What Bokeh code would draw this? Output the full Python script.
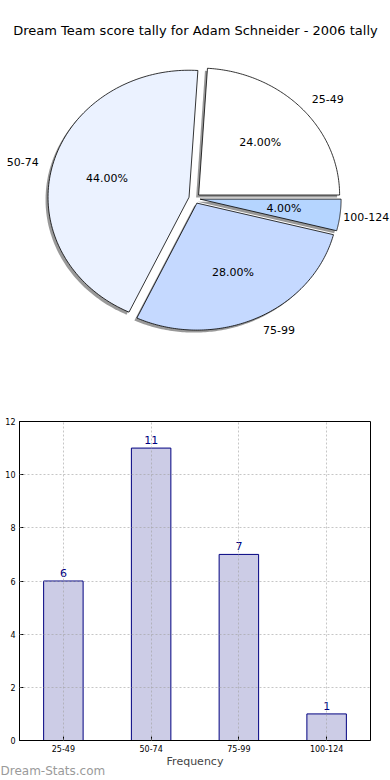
import numpy as np
from bokeh.plotting import figure
from bokeh.models import Range1d, FactorRange, FixedTicker
from bokeh.embed import file_html
from bokeh.resources import INLINE
from bokeh.core.properties import value

# ---- data ----
categories = ["25-49", "50-74", "75-99", "100-124"]
counts = [6, 11, 7, 1]
pie_colors = ["#ffffff", "#ebf2ff", "#c5d9ff", "#b5d5ff"]
y_ticks = [0, 2, 4, 6, 8, 10, 12]
title_text = "Dream Team score tally for Adam Schneider - 2006 tally"
x_label = "Frequency"
watermark = "Dream-Stats.com"

FONT = value("DejaVu Sans")
W = 390
H1 = 400

# ---- pie figure (data units == canvas pixels) ----
pie = figure(width=W, height=H1, x_range=Range1d(0, W), y_range=Range1d(0, H1),
             x_axis_type=None, y_axis_type=None, output_backend="svg",
             toolbar_location=None, title=None, min_border=0,
             min_border_left=0, min_border_right=0, min_border_top=0,
             min_border_bottom=0)
pie.grid.visible = False
pie.outline_line_color = None
pie.background_fill_color = "white"
pie.border_fill_color = "white"

cx, cy = 194.0, H1 - 198.0
rx, ry = 141.0, 127.0
explode = 0.04
label_w = 6.6  # approx px per label character at 11px

total = float(sum(counts))
fracs = [c / total for c in counts]
start = 0.0
shadow_xs, shadow_ys, xs, ys = [], [], [], []
lab_l, lab_r, pct = [], [], []
for cat, f in zip(categories, fracs):
    a0 = start * 2 * np.pi
    a1 = (start + f) * 2 * np.pi
    mid = (a0 + a1) / 2
    ox = cx + explode * rx * np.cos(mid)
    oy = cy + explode * ry * np.sin(mid)
    t = np.linspace(a0, a1, 120)
    px = [ox] + list(ox + rx * np.cos(t))
    py = [oy] + list(oy + ry * np.sin(t))
    xs.append(px)
    ys.append(py)
    shadow_xs.append([v - 2.5 for v in px])
    shadow_ys.append([v - 2.5 for v in py])
    lx = cx + (1.1 + explode) * rx * np.cos(mid)
    ly = cy + (1.1 + explode) * ry * np.sin(mid)
    if np.cos(mid) > 0:
        lx = min(lx, W - 1 - label_w * len(cat))   # keep the label inside the page
        lab_l.append((lx, ly, cat))
    else:
        lab_r.append((lx, ly, cat))
    tx = cx + (0.6 + explode) * rx * np.cos(mid)
    ty = cy + (0.6 + explode) * ry * np.sin(mid)
    pct.append((tx, ty, "%.2f%%" % (f * 100)))
    start += f

pie.patches(xs=shadow_xs, ys=shadow_ys, fill_color="#808080", fill_alpha=0.8,
            line_color=None)
pie.patches(xs=xs, ys=ys, fill_color=pie_colors, line_color="black", line_width=0.8)

for group, align in ((lab_l, "left"), (lab_r, "right")):
    if group:
        pie.text(x=[g[0] for g in group], y=[g[1] for g in group],
                 text=[g[2] for g in group], text_align=align,
                 text_baseline="middle", text_font=FONT, text_font_size="11px",
                 text_color="black")
pie.text(x=[g[0] for g in pct], y=[g[1] for g in pct], text=[g[2] for g in pct],
         text_align="center", text_baseline="middle", text_font=FONT,
         text_font_size="11px", text_color="black")
pie.text(x=[W / 2], y=[H1 - 30], text=[title_text], text_align="center",
         text_baseline="middle", text_font=FONT, text_font_size="13px",
         text_color="black")

# ---- bar figure ----
H2 = 380
bar = figure(width=W, height=H2, x_range=FactorRange(*categories),
             y_range=Range1d(0, 12), output_backend="svg", toolbar_location=None,
             title=None, min_border_left=19, min_border_right=20,
             min_border_top=21, min_border_bottom=40)
bar.background_fill_color = "white"
bar.border_fill_color = "white"
bar.outline_line_color = "black"
bar.outline_line_width = 1

bar.vbar(x=categories, top=counts, width=0.45, fill_color="#ccccE6",
         line_color="#000080", line_width=1)
bar.text(x=categories, y=counts, text=[str(c) for c in counts], text_align="center",
         text_baseline="bottom", y_offset=-4, text_font=FONT,
         text_font_size="11px", text_color="#000080")

for g in bar.grid:
    g.grid_line_color = "#a0a0a0"
    g.grid_line_alpha = 0.6
    g.grid_line_dash = "2 2"
    g.grid_line_width = 1
    g.level = "overlay"

bar.yaxis.ticker = FixedTicker(ticks=y_ticks)
for ax in (bar.xaxis[0], bar.yaxis[0]):
    ax.major_tick_in = 4
    ax.major_tick_out = 0
    ax.minor_tick_line_color = None
    ax.major_label_text_font = "DejaVu Sans"
    ax.major_label_text_font_size = "8px"
    ax.major_label_text_color = "black"
    ax.axis_line_color = "black"
    ax.major_tick_line_color = "black"
    ax.major_label_standoff = 4
bar.xaxis.axis_label = x_label
bar.xaxis.axis_label_text_font = "DejaVu Sans"
bar.xaxis.axis_label_text_font_size = "11px"
bar.xaxis.axis_label_text_font_style = "normal"
bar.xaxis.axis_label_standoff = 0

# ---- watermark strip, overlapping the bottom of the bar figure ----
H3 = 16
wm = figure(width=W, height=H3, x_range=Range1d(0, W), y_range=Range1d(0, H3),
            x_axis_type=None, y_axis_type=None, output_backend="svg",
            toolbar_location=None, title=None, min_border=0, min_border_left=0,
            min_border_right=0, min_border_top=0, min_border_bottom=0,
            margin=(-H3, 0, 0, 0))
wm.grid.visible = False
wm.outline_line_color = None
wm.background_fill_alpha = 0
wm.border_fill_alpha = 0
wm.text(x=[0], y=[H3 / 2 + 2], text=[watermark], text_align="left",
        text_baseline="middle", text_font=FONT, text_font_size="12px",
        text_color="#9a9a9a")

open("out.html", "w").write(file_html([pie, bar, wm], INLINE))
